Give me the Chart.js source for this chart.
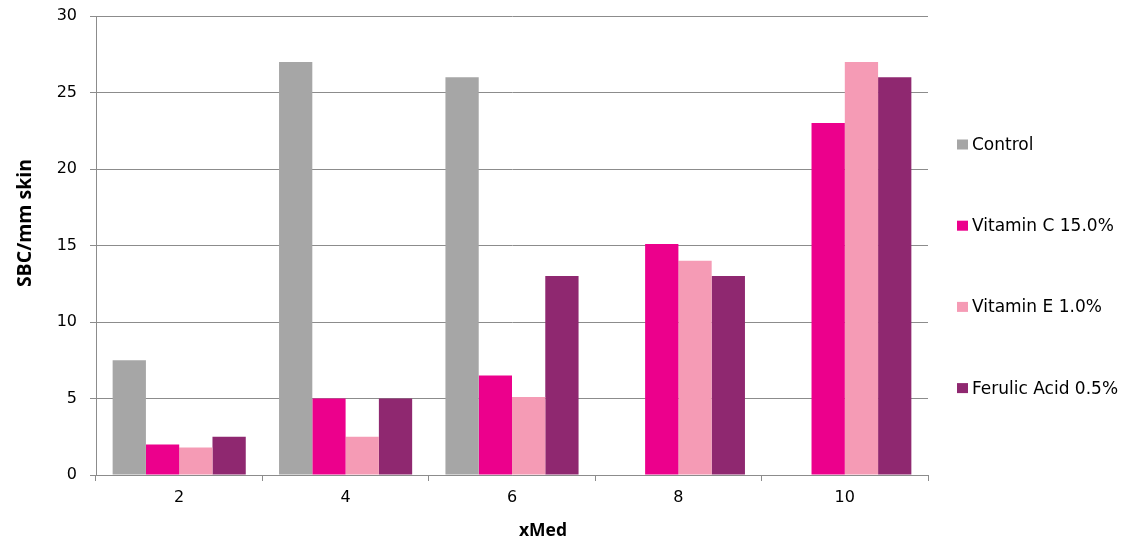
<!DOCTYPE html>
<html>
<head>
<meta charset="utf-8">
<script src="https://cdn.jsdelivr.net/npm/chart.js@4.4.1/dist/chart.umd.min.js"></script>
<style>
html,body{margin:0;padding:0;background:#fff;}
#wrap{width:1123px;height:541px;position:relative;}
</style>
</head>
<body>
<div id="wrap"><canvas id="c" width="1123" height="541"></canvas></div>
<script>
const categories = ["2", "4", "6", "8", "10"];
const seriesNames = ["Control", "Vitamin C 15.0%", "Vitamin E 1.0%", "Ferulic Acid 0.5%"];
const control   = [7.5, 27, 26, null, null];
const vitaminC  = [2, 5, 6.5, 15.1, 23];
const vitaminE  = [1.8, 2.5, 5.1, 14, 27];
const ferulic   = [2.5, 5, 13, 13, 26];
const yTicks = [0, 5, 10, 15, 20, 25, 30];
const colors = ["#A6A6A6", "#EC008C", "#F59BB5", "#8F2870"];
const xTitle = "xMed";
const yTitle = "SBC/mm skin";

const FONT = "'DejaVu Sans', sans-serif";
const TFONT = "'Open Sans', 'Noto Sans', sans-serif";

const decorPlugin = {
  id: 'decor',
  afterDraw(chart) {
    const ctx = chart.ctx;
    const ca = chart.chartArea;
    const x0 = ca.right + 29;
    const yStart = 144.5, step = 81.2;
    ctx.save();
    ctx.font = "17px " + FONT;
    ctx.textBaseline = 'middle';
    ctx.textAlign = 'left';
    chart.data.datasets.forEach((ds, i) => {
      const y = yStart + i * step;
      ctx.fillStyle = ds.backgroundColor;
      ctx.fillRect(x0, y - 5, 11, 10);
      ctx.fillStyle = '#000';
      ctx.fillText(ds.label, x0 + 15, y + 1);
    });
    ctx.fillStyle = '#000';
    ctx.textAlign = 'center';
    ctx.font = "bold 17.5px " + TFONT;
    ctx.fillText(xTitle, 543, 531);
    ctx.translate(25, 223);
    ctx.rotate(-Math.PI / 2);
    ctx.font = "bold 19.5px " + TFONT;
    ctx.fillText(yTitle, 0, 0);
    ctx.restore();
  }
};

const datasets = [control, vitaminC, vitaminE, ferulic].map((d, i) => ({
  label: seriesNames[i],
  data: d,
  backgroundColor: colors[i],
  borderWidth: 0,
  barPercentage: 1.0,
  categoryPercentage: 0.8
}));

new Chart(document.getElementById('c'), {
  type: 'bar',
  data: { labels: categories, datasets },
  plugins: [decorPlugin],
  options: {
    responsive: false,
    animation: false,
    layout: { padding: { top: 16, right: 195, left: 0, bottom: 0 } },
    plugins: { legend: { display: false }, tooltip: { enabled: false } },
    scales: {
      x: {
        grid: { display: true, drawOnChartArea: false, offset: true, tickLength: 6, color: '#8c8c8c', lineWidth: 1 },
        border: { color: '#8c8c8c', width: 1 },
        ticks: { color: '#000', font: { family: FONT, size: 16 }, padding: 7, maxRotation: 0 },
        afterFit(scale) { scale.height = 66; }
      },
      y: {
        min: 0, max: 30,
        afterBuildTicks(scale) { scale.ticks = yTicks.map(v => ({ value: v })); },
        grid: { color: '#8c8c8c', lineWidth: 1, tickLength: 6 },
        border: { color: '#8c8c8c', width: 1 },
        ticks: { color: '#000', font: { family: FONT, size: 16 }, padding: 13 },
        afterFit(scale) { scale.width = 96; scale.paddingTop = 0; scale.paddingBottom = 0; }
      }
    }
  }
});
</script>
</body>
</html>
